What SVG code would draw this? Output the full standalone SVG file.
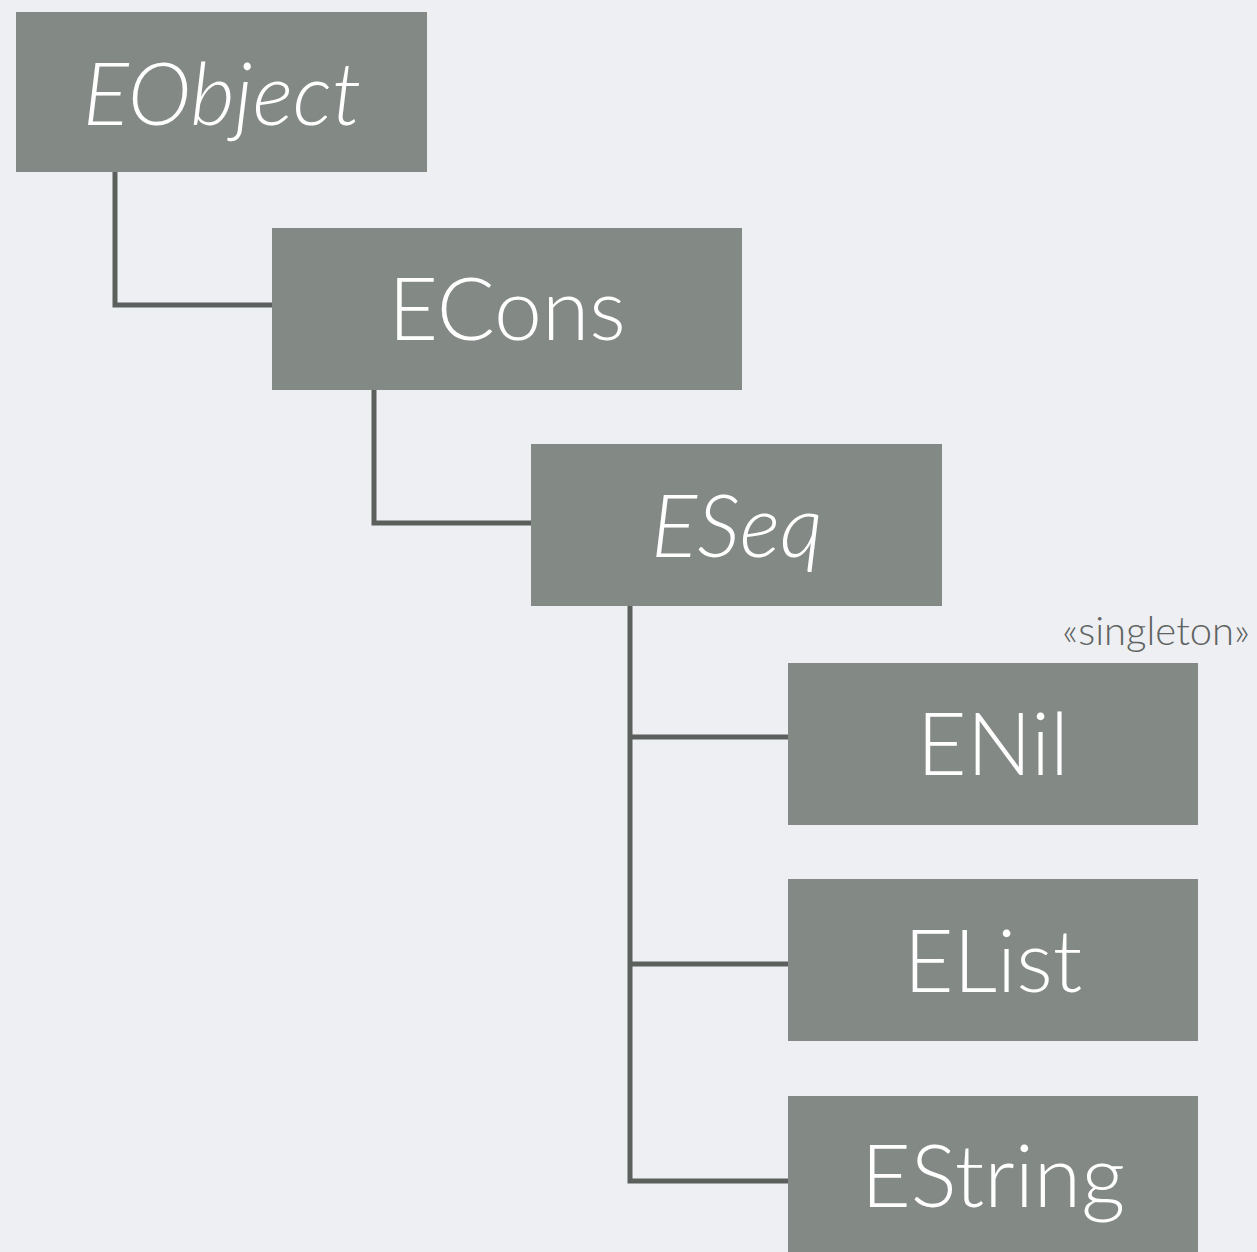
<svg xmlns="http://www.w3.org/2000/svg" width="1257" height="1252" viewBox="0 0 1257 1252">
<style>
.box{fill:#838985}
.lbl{font-family:Lato,"Open Sans","Liberation Sans",sans-serif;font-weight:300;font-size:86px;fill:#ffffff;text-anchor:middle}
.it{font-style:italic}
.conn{fill:none;stroke:#5b605d;stroke-width:5}
.st{font-family:Lato,"Open Sans","Liberation Sans",sans-serif;font-weight:300;font-size:40px;fill:#5f6361;text-anchor:end}
</style>
<rect width="1257" height="1252" fill="#edeff2"/>
<g id="connectors">
<polyline class="conn" points="115,172 115,305 275,305"/>
<polyline class="conn" points="374,390 374,523 533,523"/>
<polyline class="conn" points="630,606 630,1181 790,1181"/>
<line class="conn" x1="630" y1="737" x2="790" y2="737"/>
<line class="conn" x1="630" y1="964" x2="790" y2="964"/>
</g>
<g id="EObject">
<rect class="box" x="16" y="12" width="411" height="160"/>
<text class="lbl it" x="222" y="125">EObject</text>
</g>
<g id="ECons">
<rect class="box" x="272" y="228" width="470" height="162"/>
<text class="lbl" x="507" y="340">ECons</text>
</g>
<g id="ESeq">
<rect class="box" x="531" y="444" width="411" height="162"/>
<text class="lbl it" x="737" y="557">ESeq</text>
</g>
<g id="ENil">
<text class="st" x="1250" y="645">«singleton»</text>
<rect class="box" x="788" y="663" width="410" height="162"/>
<text class="lbl" x="993" y="775">ENil</text>
</g>
<g id="EList">
<rect class="box" x="788" y="879" width="410" height="162"/>
<text class="lbl" x="993" y="992">EList</text>
</g>
<g id="EString">
<rect class="box" x="788" y="1096" width="410" height="162"/>
<text class="lbl" x="993" y="1207">EString</text>
</g>
</svg>
